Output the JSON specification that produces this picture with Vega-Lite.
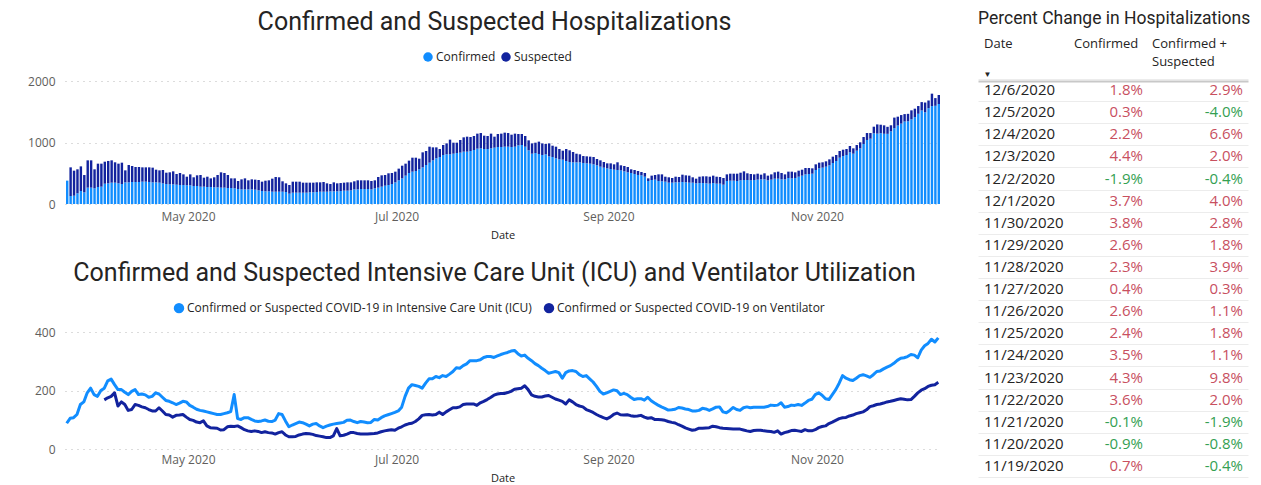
{
"$schema": "https://vega.github.io/schema/vega-lite/v6.json",
"background": "white",
"padding": {"left": 27, "top": 9, "right": 0, "bottom": 0},
"config": {
  "view": {"stroke": null},
  "font": "Open Sans",
  "locale": {"number": {"decimal": ".", "thousands": ",", "grouping": [3], "currency": ["$", ""], "minus": "-"}},
  "title": {"font": "Roboto", "fontSize": 25, "fontWeight": "normal", "color": "#252423"},
  "axis": {"labelFont": "Open Sans", "labelColor": "#605E5C", "labelFontSize": 12, "titleFont": "Open Sans", "titleColor": "#252423", "titleFontWeight": "normal", "titleFontSize": 11},
  "legend": {"labelFont": "Open Sans", "labelFontSize": 12, "labelColor": "#252423", "symbolType": "circle", "symbolSize": 90, "symbolStrokeWidth": 0, "columnPadding": 4, "labelOffset": 2}
},
"data": {"format": {"parse": {"date": "date:'%Y-%m-%d'"}}, "values": [
{"date":"2020-03-26","confirmed":380,"suspected":0,"icu":88},
{"date":"2020-03-27","confirmed":130,"suspected":466,"icu":105},
{"date":"2020-03-28","confirmed":135,"suspected":407,"icu":107},
{"date":"2020-03-29","confirmed":173,"suspected":391,"icu":118},
{"date":"2020-03-30","confirmed":211,"suspected":401,"icu":152},
{"date":"2020-03-31","confirmed":190,"suspected":281,"icu":161},
{"date":"2020-04-01","confirmed":266,"suspected":444,"icu":192},
{"date":"2020-04-02","confirmed":266,"suspected":444,"icu":208},
{"date":"2020-04-03","confirmed":255,"suspected":309,"icu":186},
{"date":"2020-04-04","confirmed":276,"suspected":380,"icu":180},
{"date":"2020-04-05","confirmed":282,"suspected":374,"icu":200},
{"date":"2020-04-06","confirmed":330,"suspected":358,"icu":208,"vent":168},
{"date":"2020-04-07","confirmed":336,"suspected":364,"icu":233,"vent":175},
{"date":"2020-04-08","confirmed":347,"suspected":363,"icu":239,"vent":180},
{"date":"2020-04-09","confirmed":347,"suspected":331,"icu":220,"vent":192},
{"date":"2020-04-10","confirmed":336,"suspected":320,"icu":203,"vent":147},
{"date":"2020-04-11","confirmed":325,"suspected":347,"icu":203,"vent":161},
{"date":"2020-04-12","confirmed":352,"suspected":195,"icu":194,"vent":152},
{"date":"2020-04-13","confirmed":352,"suspected":282,"icu":186,"vent":132},
{"date":"2020-04-14","confirmed":358,"suspected":260,"icu":197,"vent":135},
{"date":"2020-04-15","confirmed":358,"suspected":244,"icu":203,"vent":152},
{"date":"2020-04-16","confirmed":358,"suspected":244,"icu":186,"vent":149},
{"date":"2020-04-17","confirmed":363,"suspected":233,"icu":188,"vent":144},
{"date":"2020-04-18","confirmed":363,"suspected":233,"icu":185,"vent":141},
{"date":"2020-04-19","confirmed":358,"suspected":238,"icu":177,"vent":135},
{"date":"2020-04-20","confirmed":352,"suspected":239,"icu":180,"vent":130},
{"date":"2020-04-21","confirmed":352,"suspected":206,"icu":192,"vent":130},
{"date":"2020-04-22","confirmed":347,"suspected":200,"icu":188,"vent":141},
{"date":"2020-04-23","confirmed":336,"suspected":217,"icu":177,"vent":130},
{"date":"2020-04-24","confirmed":325,"suspected":184,"icu":166,"vent":118},
{"date":"2020-04-25","confirmed":320,"suspected":195,"icu":163,"vent":116},
{"date":"2020-04-26","confirmed":320,"suspected":211,"icu":158,"vent":109},
{"date":"2020-04-27","confirmed":314,"suspected":174,"icu":152,"vent":115},
{"date":"2020-04-28","confirmed":309,"suspected":195,"icu":157,"vent":116},
{"date":"2020-04-29","confirmed":309,"suspected":173,"icu":163,"vent":118},
{"date":"2020-04-30","confirmed":304,"suspected":140,"icu":161,"vent":109},
{"date":"2020-05-01","confirmed":304,"suspected":178,"icu":149,"vent":101},
{"date":"2020-05-02","confirmed":293,"suspected":141,"icu":143,"vent":98},
{"date":"2020-05-03","confirmed":293,"suspected":173,"icu":136,"vent":92},
{"date":"2020-05-04","confirmed":282,"suspected":190,"icu":132,"vent":90},
{"date":"2020-05-05","confirmed":282,"suspected":146,"icu":130,"vent":96},
{"date":"2020-05-06","confirmed":276,"suspected":168,"icu":127,"vent":79},
{"date":"2020-05-07","confirmed":276,"suspected":141,"icu":124,"vent":73},
{"date":"2020-05-08","confirmed":271,"suspected":163,"icu":121,"vent":72},
{"date":"2020-05-09","confirmed":271,"suspected":201,"icu":118,"vent":71},
{"date":"2020-05-10","confirmed":266,"suspected":249,"icu":118,"vent":65},
{"date":"2020-05-11","confirmed":266,"suspected":238,"icu":121,"vent":66},
{"date":"2020-05-12","confirmed":260,"suspected":212,"icu":124,"vent":76},
{"date":"2020-05-13","confirmed":260,"suspected":157,"icu":128,"vent":78},
{"date":"2020-05-14","confirmed":255,"suspected":162,"icu":186,"vent":77},
{"date":"2020-05-15","confirmed":244,"suspected":130,"icu":104,"vent":79},
{"date":"2020-05-16","confirmed":238,"suspected":163,"icu":101,"vent":73},
{"date":"2020-05-17","confirmed":238,"suspected":179,"icu":107,"vent":66},
{"date":"2020-05-18","confirmed":238,"suspected":147,"icu":107,"vent":62},
{"date":"2020-05-19","confirmed":238,"suspected":163,"icu":101,"vent":60},
{"date":"2020-05-20","confirmed":233,"suspected":163,"icu":96,"vent":62},
{"date":"2020-05-21","confirmed":222,"suspected":168,"icu":94,"vent":60},
{"date":"2020-05-22","confirmed":211,"suspected":152,"icu":96,"vent":56},
{"date":"2020-05-23","confirmed":206,"suspected":173,"icu":99,"vent":59},
{"date":"2020-05-24","confirmed":206,"suspected":179,"icu":95,"vent":56},
{"date":"2020-05-25","confirmed":200,"suspected":212,"icu":94,"vent":55},
{"date":"2020-05-26","confirmed":200,"suspected":239,"icu":99,"vent":51},
{"date":"2020-05-27","confirmed":200,"suspected":234,"icu":121,"vent":56},
{"date":"2020-05-28","confirmed":200,"suspected":169,"icu":118,"vent":59},
{"date":"2020-05-29","confirmed":195,"suspected":141,"icu":96,"vent":48},
{"date":"2020-05-30","confirmed":168,"suspected":141,"icu":76,"vent":42},
{"date":"2020-05-31","confirmed":184,"suspected":179,"icu":82,"vent":42},
{"date":"2020-06-01","confirmed":184,"suspected":179,"icu":87,"vent":43},
{"date":"2020-06-02","confirmed":184,"suspected":179,"icu":92,"vent":48},
{"date":"2020-06-03","confirmed":184,"suspected":163,"icu":90,"vent":51},
{"date":"2020-06-04","confirmed":184,"suspected":163,"icu":85,"vent":53},
{"date":"2020-06-05","confirmed":190,"suspected":157,"icu":79,"vent":52},
{"date":"2020-06-06","confirmed":190,"suspected":157,"icu":85,"vent":50},
{"date":"2020-06-07","confirmed":195,"suspected":157,"icu":87,"vent":46},
{"date":"2020-06-08","confirmed":200,"suspected":152,"icu":79,"vent":44},
{"date":"2020-06-09","confirmed":200,"suspected":158,"icu":73,"vent":42},
{"date":"2020-06-10","confirmed":200,"suspected":136,"icu":78,"vent":39},
{"date":"2020-06-11","confirmed":206,"suspected":119,"icu":82,"vent":39},
{"date":"2020-06-12","confirmed":206,"suspected":146,"icu":85,"vent":45},
{"date":"2020-06-13","confirmed":206,"suspected":130,"icu":87,"vent":70},
{"date":"2020-06-14","confirmed":211,"suspected":130,"icu":89,"vent":45},
{"date":"2020-06-15","confirmed":217,"suspected":130,"icu":91,"vent":47},
{"date":"2020-06-16","confirmed":217,"suspected":135,"icu":98,"vent":51},
{"date":"2020-06-17","confirmed":222,"suspected":130,"icu":99,"vent":56},
{"date":"2020-06-18","confirmed":238,"suspected":131,"icu":94,"vent":56},
{"date":"2020-06-19","confirmed":238,"suspected":147,"icu":90,"vent":53},
{"date":"2020-06-20","confirmed":244,"suspected":141,"icu":94,"vent":51},
{"date":"2020-06-21","confirmed":244,"suspected":141,"icu":92,"vent":51},
{"date":"2020-06-22","confirmed":244,"suspected":141,"icu":90,"vent":51},
{"date":"2020-06-23","confirmed":238,"suspected":136,"icu":91,"vent":52},
{"date":"2020-06-24","confirmed":255,"suspected":130,"icu":101,"vent":53},
{"date":"2020-06-25","confirmed":266,"suspected":173,"icu":99,"vent":55},
{"date":"2020-06-26","confirmed":282,"suspected":184,"icu":107,"vent":59},
{"date":"2020-06-27","confirmed":298,"suspected":174,"icu":113,"vent":62},
{"date":"2020-06-28","confirmed":309,"suspected":190,"icu":117,"vent":64},
{"date":"2020-06-29","confirmed":325,"suspected":179,"icu":121,"vent":66},
{"date":"2020-06-30","confirmed":352,"suspected":174,"icu":125,"vent":64},
{"date":"2020-07-01","confirmed":385,"suspected":190,"icu":130,"vent":71},
{"date":"2020-07-02","confirmed":417,"suspected":206,"icu":143,"vent":76},
{"date":"2020-07-03","confirmed":461,"suspected":195,"icu":180,"vent":82},
{"date":"2020-07-04","confirmed":504,"suspected":201,"icu":208,"vent":86},
{"date":"2020-07-05","confirmed":526,"suspected":227,"icu":220,"vent":88},
{"date":"2020-07-06","confirmed":537,"suspected":216,"icu":217,"vent":94},
{"date":"2020-07-07","confirmed":564,"suspected":173,"icu":214,"vent":103},
{"date":"2020-07-08","confirmed":596,"suspected":244,"icu":208,"vent":115},
{"date":"2020-07-09","confirmed":634,"suspected":228,"icu":225,"vent":117},
{"date":"2020-07-10","confirmed":672,"suspected":260,"icu":240,"vent":118},
{"date":"2020-07-11","confirmed":710,"suspected":211,"icu":240,"vent":116},
{"date":"2020-07-12","confirmed":743,"suspected":178,"icu":248,"vent":118},
{"date":"2020-07-13","confirmed":764,"suspected":130,"icu":244,"vent":126},
{"date":"2020-07-14","confirmed":797,"suspected":162,"icu":251,"vent":118},
{"date":"2020-07-15","confirmed":808,"suspected":178,"icu":248,"vent":127},
{"date":"2020-07-16","confirmed":808,"suspected":238,"icu":256,"vent":134},
{"date":"2020-07-17","confirmed":818,"suspected":179,"icu":265,"vent":141},
{"date":"2020-07-18","confirmed":829,"suspected":168,"icu":278,"vent":141},
{"date":"2020-07-19","confirmed":835,"suspected":206,"icu":276,"vent":144},
{"date":"2020-07-20","confirmed":851,"suspected":233,"icu":285,"vent":152},
{"date":"2020-07-21","confirmed":851,"suspected":244,"icu":291,"vent":154},
{"date":"2020-07-22","confirmed":862,"suspected":227,"icu":302,"vent":154},
{"date":"2020-07-23","confirmed":878,"suspected":228,"icu":302,"vent":154},
{"date":"2020-07-24","confirmed":900,"suspected":244,"icu":302,"vent":149},
{"date":"2020-07-25","confirmed":905,"suspected":249,"icu":305,"vent":158},
{"date":"2020-07-26","confirmed":894,"suspected":217,"icu":313,"vent":163},
{"date":"2020-07-27","confirmed":894,"suspected":212,"icu":316,"vent":169},
{"date":"2020-07-28","confirmed":905,"suspected":239,"icu":316,"vent":176},
{"date":"2020-07-29","confirmed":916,"suspected":179,"icu":313,"vent":184},
{"date":"2020-07-30","confirmed":927,"suspected":211,"icu":318,"vent":188},
{"date":"2020-07-31","confirmed":927,"suspected":217,"icu":323,"vent":190},
{"date":"2020-08-01","confirmed":932,"suspected":228,"icu":327,"vent":190},
{"date":"2020-08-02","confirmed":932,"suspected":222,"icu":330,"vent":193},
{"date":"2020-08-03","confirmed":927,"suspected":200,"icu":335,"vent":197},
{"date":"2020-08-04","confirmed":932,"suspected":212,"icu":337,"vent":204},
{"date":"2020-08-05","confirmed":954,"suspected":184,"icu":326,"vent":206},
{"date":"2020-08-06","confirmed":959,"suspected":179,"icu":318,"vent":208},
{"date":"2020-08-07","confirmed":932,"suspected":174,"icu":321,"vent":216},
{"date":"2020-08-08","confirmed":873,"suspected":162,"icu":310,"vent":203},
{"date":"2020-08-09","confirmed":818,"suspected":168,"icu":302,"vent":185},
{"date":"2020-08-10","confirmed":829,"suspected":168,"icu":292,"vent":180},
{"date":"2020-08-11","confirmed":813,"suspected":201,"icu":285,"vent":178},
{"date":"2020-08-12","confirmed":797,"suspected":189,"icu":276,"vent":178},
{"date":"2020-08-13","confirmed":808,"suspected":168,"icu":268,"vent":181},
{"date":"2020-08-14","confirmed":775,"suspected":211,"icu":259,"vent":183},
{"date":"2020-08-15","confirmed":764,"suspected":184,"icu":262,"vent":177},
{"date":"2020-08-16","confirmed":743,"suspected":189,"icu":265,"vent":171},
{"date":"2020-08-17","confirmed":726,"suspected":168,"icu":261,"vent":167},
{"date":"2020-08-18","confirmed":721,"suspected":146,"icu":242,"vent":163},
{"date":"2020-08-19","confirmed":699,"suspected":195,"icu":261,"vent":154},
{"date":"2020-08-20","confirmed":683,"suspected":190,"icu":267,"vent":168},
{"date":"2020-08-21","confirmed":677,"suspected":169,"icu":268,"vent":161},
{"date":"2020-08-22","confirmed":677,"suspected":141,"icu":265,"vent":152},
{"date":"2020-08-23","confirmed":677,"suspected":131,"icu":254,"vent":147},
{"date":"2020-08-24","confirmed":667,"suspected":113,"icu":248,"vent":144},
{"date":"2020-08-25","confirmed":661,"suspected":114,"icu":251,"vent":135},
{"date":"2020-08-26","confirmed":656,"suspected":114,"icu":240,"vent":130},
{"date":"2020-08-27","confirmed":645,"suspected":119,"icu":229,"vent":125},
{"date":"2020-08-28","confirmed":629,"suspected":103,"icu":214,"vent":118},
{"date":"2020-08-29","confirmed":607,"suspected":103,"icu":197,"vent":112},
{"date":"2020-08-30","confirmed":591,"suspected":92,"icu":188,"vent":107},
{"date":"2020-08-31","confirmed":580,"suspected":81,"icu":192,"vent":103},
{"date":"2020-09-01","confirmed":569,"suspected":92,"icu":197,"vent":109},
{"date":"2020-09-02","confirmed":558,"suspected":87,"icu":202,"vent":118},
{"date":"2020-09-03","confirmed":553,"suspected":125,"icu":199,"vent":123},
{"date":"2020-09-04","confirmed":547,"suspected":82,"icu":186,"vent":117},
{"date":"2020-09-05","confirmed":531,"suspected":87,"icu":190,"vent":116},
{"date":"2020-09-06","confirmed":515,"suspected":87,"icu":186,"vent":117},
{"date":"2020-09-07","confirmed":504,"suspected":60,"icu":177,"vent":114},
{"date":"2020-09-08","confirmed":488,"suspected":65,"icu":169,"vent":112},
{"date":"2020-09-09","confirmed":472,"suspected":65,"icu":172,"vent":113},
{"date":"2020-09-10","confirmed":466,"suspected":54,"icu":172,"vent":115},
{"date":"2020-09-11","confirmed":444,"suspected":60,"icu":167,"vent":109},
{"date":"2020-09-12","confirmed":374,"suspected":43,"icu":177,"vent":105},
{"date":"2020-09-13","confirmed":390,"suspected":71,"icu":165,"vent":107},
{"date":"2020-09-14","confirmed":396,"suspected":76,"icu":157,"vent":101},
{"date":"2020-09-15","confirmed":374,"suspected":108,"icu":150,"vent":101},
{"date":"2020-09-16","confirmed":369,"suspected":113,"icu":144,"vent":100},
{"date":"2020-09-17","confirmed":363,"suspected":81,"icu":139,"vent":98},
{"date":"2020-09-18","confirmed":347,"suspected":87,"icu":133,"vent":94},
{"date":"2020-09-19","confirmed":347,"suspected":76,"icu":134,"vent":91},
{"date":"2020-09-20","confirmed":352,"suspected":92,"icu":136,"vent":89},
{"date":"2020-09-21","confirmed":352,"suspected":87,"icu":142,"vent":83},
{"date":"2020-09-22","confirmed":358,"suspected":119,"icu":140,"vent":78},
{"date":"2020-09-23","confirmed":352,"suspected":114,"icu":137,"vent":72},
{"date":"2020-09-24","confirmed":347,"suspected":114,"icu":135,"vent":68},
{"date":"2020-09-25","confirmed":347,"suspected":87,"icu":130,"vent":64},
{"date":"2020-09-26","confirmed":336,"suspected":76,"icu":130,"vent":66},
{"date":"2020-09-27","confirmed":341,"suspected":103,"icu":132,"vent":71},
{"date":"2020-09-28","confirmed":341,"suspected":109,"icu":139,"vent":71},
{"date":"2020-09-29","confirmed":336,"suspected":114,"icu":137,"vent":72},
{"date":"2020-09-30","confirmed":331,"suspected":113,"icu":132,"vent":73},
{"date":"2020-10-01","confirmed":341,"suspected":120,"icu":137,"vent":78},
{"date":"2020-10-02","confirmed":331,"suspected":113,"icu":143,"vent":76},
{"date":"2020-10-03","confirmed":331,"suspected":108,"icu":144,"vent":73},
{"date":"2020-10-04","confirmed":314,"suspected":109,"icu":127,"vent":71},
{"date":"2020-10-05","confirmed":374,"suspected":108,"icu":124,"vent":70},
{"date":"2020-10-06","confirmed":379,"suspected":114,"icu":132,"vent":69},
{"date":"2020-10-07","confirmed":379,"suspected":114,"icu":142,"vent":68},
{"date":"2020-10-08","confirmed":374,"suspected":119,"icu":135,"vent":68},
{"date":"2020-10-09","confirmed":385,"suspected":124,"icu":132,"vent":68},
{"date":"2020-10-10","confirmed":390,"suspected":141,"icu":141,"vent":65},
{"date":"2020-10-11","confirmed":390,"suspected":109,"icu":144,"vent":62},
{"date":"2020-10-12","confirmed":385,"suspected":103,"icu":141,"vent":60},
{"date":"2020-10-13","confirmed":390,"suspected":92,"icu":143,"vent":63},
{"date":"2020-10-14","confirmed":396,"suspected":97,"icu":143,"vent":64},
{"date":"2020-10-15","confirmed":401,"suspected":76,"icu":143,"vent":64},
{"date":"2020-10-16","confirmed":401,"suspected":98,"icu":143,"vent":62},
{"date":"2020-10-17","confirmed":385,"suspected":76,"icu":145,"vent":61},
{"date":"2020-10-18","confirmed":396,"suspected":86,"icu":150,"vent":60},
{"date":"2020-10-19","confirmed":412,"suspected":103,"icu":149,"vent":57},
{"date":"2020-10-20","confirmed":412,"suspected":114,"icu":150,"vent":62},
{"date":"2020-10-21","confirmed":401,"suspected":103,"icu":158,"vent":51},
{"date":"2020-10-22","confirmed":401,"suspected":81,"icu":143,"vent":56},
{"date":"2020-10-23","confirmed":423,"suspected":103,"icu":145,"vent":59},
{"date":"2020-10-24","confirmed":417,"suspected":109,"icu":150,"vent":63},
{"date":"2020-10-25","confirmed":423,"suspected":92,"icu":149,"vent":64},
{"date":"2020-10-26","confirmed":444,"suspected":98,"icu":152,"vent":62},
{"date":"2020-10-27","confirmed":461,"suspected":97,"icu":149,"vent":60},
{"date":"2020-10-28","confirmed":482,"suspected":103,"icu":157,"vent":66},
{"date":"2020-10-29","confirmed":488,"suspected":97,"icu":166,"vent":62},
{"date":"2020-10-30","confirmed":493,"suspected":87,"icu":170,"vent":62},
{"date":"2020-10-31","confirmed":553,"suspected":92,"icu":186,"vent":66},
{"date":"2020-11-01","confirmed":580,"suspected":92,"icu":192,"vent":73},
{"date":"2020-11-02","confirmed":591,"suspected":87,"icu":184,"vent":77},
{"date":"2020-11-03","confirmed":607,"suspected":87,"icu":172,"vent":79},
{"date":"2020-11-04","confirmed":629,"suspected":97,"icu":169,"vent":87},
{"date":"2020-11-05","confirmed":667,"suspected":103,"icu":186,"vent":92},
{"date":"2020-11-06","confirmed":699,"suspected":98,"icu":203,"vent":98},
{"date":"2020-11-07","confirmed":753,"suspected":109,"icu":225,"vent":104},
{"date":"2020-11-08","confirmed":780,"suspected":103,"icu":251,"vent":107},
{"date":"2020-11-09","confirmed":797,"suspected":97,"icu":242,"vent":108},
{"date":"2020-11-10","confirmed":840,"suspected":103,"icu":237,"vent":113},
{"date":"2020-11-11","confirmed":818,"suspected":87,"icu":234,"vent":116},
{"date":"2020-11-12","confirmed":867,"suspected":92,"icu":242,"vent":121},
{"date":"2020-11-13","confirmed":905,"suspected":98,"icu":251,"vent":124},
{"date":"2020-11-14","confirmed":976,"suspected":113,"icu":254,"vent":127},
{"date":"2020-11-15","confirmed":1041,"suspected":113,"icu":250,"vent":134},
{"date":"2020-11-16","confirmed":1062,"suspected":92,"icu":245,"vent":145},
{"date":"2020-11-17","confirmed":1149,"suspected":108,"icu":254,"vent":148},
{"date":"2020-11-18","confirmed":1144,"suspected":150,"icu":265,"vent":152},
{"date":"2020-11-19","confirmed":1152,"suspected":137,"icu":267,"vent":154},
{"date":"2020-11-20","confirmed":1142,"suspected":137,"icu":274,"vent":157},
{"date":"2020-11-21","confirmed":1141,"suspected":114,"icu":280,"vent":161},
{"date":"2020-11-22","confirmed":1182,"suspected":98,"icu":285,"vent":163},
{"date":"2020-11-23","confirmed":1233,"suspected":172,"icu":293,"vent":166},
{"date":"2020-11-24","confirmed":1276,"suspected":144,"icu":303,"vent":169},
{"date":"2020-11-25","confirmed":1307,"suspected":139,"icu":310,"vent":172},
{"date":"2020-11-26","confirmed":1341,"suspected":121,"icu":312,"vent":170},
{"date":"2020-11-27","confirmed":1346,"suspected":120,"icu":316,"vent":168},
{"date":"2020-11-28","confirmed":1377,"suspected":146,"icu":323,"vent":169},
{"date":"2020-11-29","confirmed":1413,"suspected":137,"icu":321,"vent":180},
{"date":"2020-11-30","confirmed":1467,"suspected":126,"icu":312,"vent":192},
{"date":"2020-12-01","confirmed":1521,"suspected":136,"icu":338,"vent":201},
{"date":"2020-12-02","confirmed":1492,"suspected":158,"icu":353,"vent":206},
{"date":"2020-12-03","confirmed":1558,"suspected":125,"icu":361,"vent":214},
{"date":"2020-12-04","confirmed":1592,"suspected":202,"icu":375,"vent":218},
{"date":"2020-12-05","confirmed":1597,"suspected":125,"icu":366,"vent":220},
{"date":"2020-12-06","confirmed":1626,"suspected":146,"icu":380,"vent":228}
]},
"spacing": 38,
"hconcat": [
  {
    "spacing": 21,
    "resolve": {"scale": {"color": "independent"}, "legend": {"color": "independent"}},
    "vconcat": [
      {
        "width": 875, "height": 123,
        "title": {"text": "Confirmed and Suspected Hospitalizations", "anchor": "middle", "dx": -8, "offset": 16},
        "transform": [{"fold": ["confirmed", "suspected"], "as": ["series", "value"]}],
        "mark": {"type": "bar", "timeUnitBandSize": 0.8, "timeUnitBandPosition": 0.1},
        "encoding": {
          "x": {"field": "date", "type": "temporal", "timeUnit": "yearmonthdate", "title": "Date",
            "scale": {"domain": [{"year": 2020, "month": 3, "date": 26}, {"year": 2020, "month": 12, "date": 7}]},
            "axis": {"values": [{"year": 2020, "month": 5, "date": 1}, {"year": 2020, "month": 7, "date": 1}, {"year": 2020, "month": 9, "date": 1}, {"year": 2020, "month": 11, "date": 1}], "format": "%b %Y", "grid": false, "domain": false, "ticks": false, "labelPadding": 7, "titlePadding": 7}},
          "y": {"field": "value", "type": "quantitative", "stack": "zero", "scale": {"domain": [0, 2000], "nice": false},
            "axis": {"values": [0, 1000, 2000], "format": "d", "title": null, "domain": false, "ticks": false, "gridDash": [1, 5], "gridColor": "#b8b8b8", "labelPadding": 10, "minExtent": 37, "maxExtent": 37}},
          "color": {"field": "series", "type": "nominal", "scale": {"domain": ["confirmed", "suspected"], "range": ["#118DFF", "#12239E"]},
            "legend": {"orient": "none", "legendX": 357, "legendY": -30, "direction": "horizontal", "title": null, "labelExpr": "datum.value == 'confirmed' ? 'Confirmed' : 'Suspected'"}},
          "order": {"field": "series", "sort": "ascending"}
        }
      },
      {
        "width": 875, "height": 117,
        "title": {"text": "Confirmed and Suspected Intensive Care Unit (ICU) and Ventilator Utilization", "anchor": "middle", "dx": -8, "offset": 16},
        "transform": [{"fold": ["icu", "vent"], "as": ["series", "value"]}],
        "mark": {"type": "line", "strokeWidth": 3, "strokeJoin": "round"},
        "encoding": {
          "x": {"field": "date", "type": "temporal", "timeUnit": "yearmonthdate", "bandPosition": 0.5, "title": "Date",
            "scale": {"domain": [{"year": 2020, "month": 3, "date": 26}, {"year": 2020, "month": 12, "date": 7}]},
            "axis": {"values": [{"year": 2020, "month": 5, "date": 1}, {"year": 2020, "month": 7, "date": 1}, {"year": 2020, "month": 9, "date": 1}, {"year": 2020, "month": 11, "date": 1}], "format": "%b %Y", "grid": false, "domain": false, "ticks": false, "labelPadding": 5, "titlePadding": 7}},
          "y": {"field": "value", "type": "quantitative", "scale": {"domain": [0, 400], "nice": false},
            "axis": {"values": [0, 200, 400], "format": "d", "title": null, "domain": false, "ticks": false, "gridDash": [1, 5], "gridColor": "#b8b8b8", "labelPadding": 10, "minExtent": 37, "maxExtent": 37}},
          "color": {"field": "series", "type": "nominal", "scale": {"domain": ["icu", "vent"], "range": ["#118DFF", "#12239E"]},
            "legend": {"orient": "none", "legendX": 108, "legendY": -30, "direction": "horizontal", "title": null, "labelLimit": 0, "symbolType": "circle", "symbolSize": 30, "symbolStrokeWidth": 5, "labelExpr": "datum.value == 'icu' ? 'Confirmed or Suspected COVID-19 in Intensive Care Unit (ICU)' : 'Confirmed or Suspected COVID-19 on Ventilator'"}}
        }
      }
    ]
  },
  {
    "width": 270, "height": 398,
    "title": {"text": "Percent Change in Hospitalizations", "fontSize": 17.5, "anchor": "start", "offset": 10},
    "data": {"values": [
      {"iso": "2020-12-06", "date": "12/6/2020", "confirmed": 0.018, "combined": 0.029},
      {"iso": "2020-12-05", "date": "12/5/2020", "confirmed": 0.003, "combined": -0.040},
      {"iso": "2020-12-04", "date": "12/4/2020", "confirmed": 0.022, "combined": 0.066},
      {"iso": "2020-12-03", "date": "12/3/2020", "confirmed": 0.044, "combined": 0.020},
      {"iso": "2020-12-02", "date": "12/2/2020", "confirmed": -0.019, "combined": -0.004},
      {"iso": "2020-12-01", "date": "12/1/2020", "confirmed": 0.037, "combined": 0.040},
      {"iso": "2020-11-30", "date": "11/30/2020", "confirmed": 0.038, "combined": 0.028},
      {"iso": "2020-11-29", "date": "11/29/2020", "confirmed": 0.026, "combined": 0.018},
      {"iso": "2020-11-28", "date": "11/28/2020", "confirmed": 0.023, "combined": 0.039},
      {"iso": "2020-11-27", "date": "11/27/2020", "confirmed": 0.004, "combined": 0.003},
      {"iso": "2020-11-26", "date": "11/26/2020", "confirmed": 0.026, "combined": 0.011},
      {"iso": "2020-11-25", "date": "11/25/2020", "confirmed": 0.024, "combined": 0.018},
      {"iso": "2020-11-24", "date": "11/24/2020", "confirmed": 0.035, "combined": 0.011},
      {"iso": "2020-11-23", "date": "11/23/2020", "confirmed": 0.043, "combined": 0.098},
      {"iso": "2020-11-22", "date": "11/22/2020", "confirmed": 0.036, "combined": 0.020},
      {"iso": "2020-11-21", "date": "11/21/2020", "confirmed": -0.001, "combined": -0.019},
      {"iso": "2020-11-20", "date": "11/20/2020", "confirmed": -0.009, "combined": -0.008},
      {"iso": "2020-11-19", "date": "11/19/2020", "confirmed": 0.007, "combined": -0.004}
    ]},
    "encoding": {
      "y": {"field": "iso", "type": "ordinal", "sort": "descending", "scale": {"type": "band", "paddingInner": 0, "paddingOuter": 0, "range": [-2, 396]},
        "axis": {"title": null, "labels": false, "ticks": false, "domain": false, "grid": true, "gridColor": "#ececec", "tickBand": "extent"}}
    },
    "layer": [
      {
        "mark": {"type": "text", "align": "left", "dx": 6, "fontSize": 15, "color": "#252423", "font": "Open Sans"},
        "encoding": {
          "x": {"datum": "Date", "type": "nominal", "bandPosition": 0,
            "scale": {"type": "band", "domain": ["Date", "Confirmed", "Confirmed + Suspected"], "paddingInner": 0, "paddingOuter": 0},
            "axis": {"orient": "top", "title": "▼", "titleFontSize": 8, "titleX": 9, "titleY": -7, "titleAlign": "center", "titleBaseline": "middle", "titleAngle": 0,
              "domain": true, "domainColor": "#c8c8c8", "domainWidth": 2, "ticks": false, "grid": false,
              "labelAlign": "left", "labelBaseline": "top", "labelPadding": 44, "labelAngle": 0, "labelLimit": 0, "labelFontSize": 13, "labelColor": "#252423", "labelLineHeight": 18,
              "labelOffset": {"condition": {"test": "datum.value == 'Confirmed + Suspected'", "value": -51}, "value": -39},
              "labelExpr": "datum.value == 'Confirmed + Suspected' ? ['Confirmed +', 'Suspected'] : datum.value"}},
          "text": {"field": "date"}
        }
      },
      {
        "mark": {"type": "text", "align": "right", "dx": -15, "fontSize": 15, "font": "Open Sans"},
        "encoding": {
          "x": {"datum": "Confirmed", "type": "nominal", "bandPosition": 1},
          "text": {"field": "confirmed", "format": ".1%"},
          "color": {"condition": {"test": "datum.confirmed < 0", "value": "#34a052"}, "value": "#c8505f"}
        }
      },
      {
        "mark": {"type": "text", "align": "right", "dx": -5, "fontSize": 15, "font": "Open Sans"},
        "encoding": {
          "x": {"datum": "Confirmed + Suspected", "type": "nominal", "bandPosition": 1},
          "text": {"field": "combined", "format": ".1%"},
          "color": {"condition": {"test": "datum.combined < 0", "value": "#34a052"}, "value": "#c8505f"}
        }
      }
    ]
  }
]
}
